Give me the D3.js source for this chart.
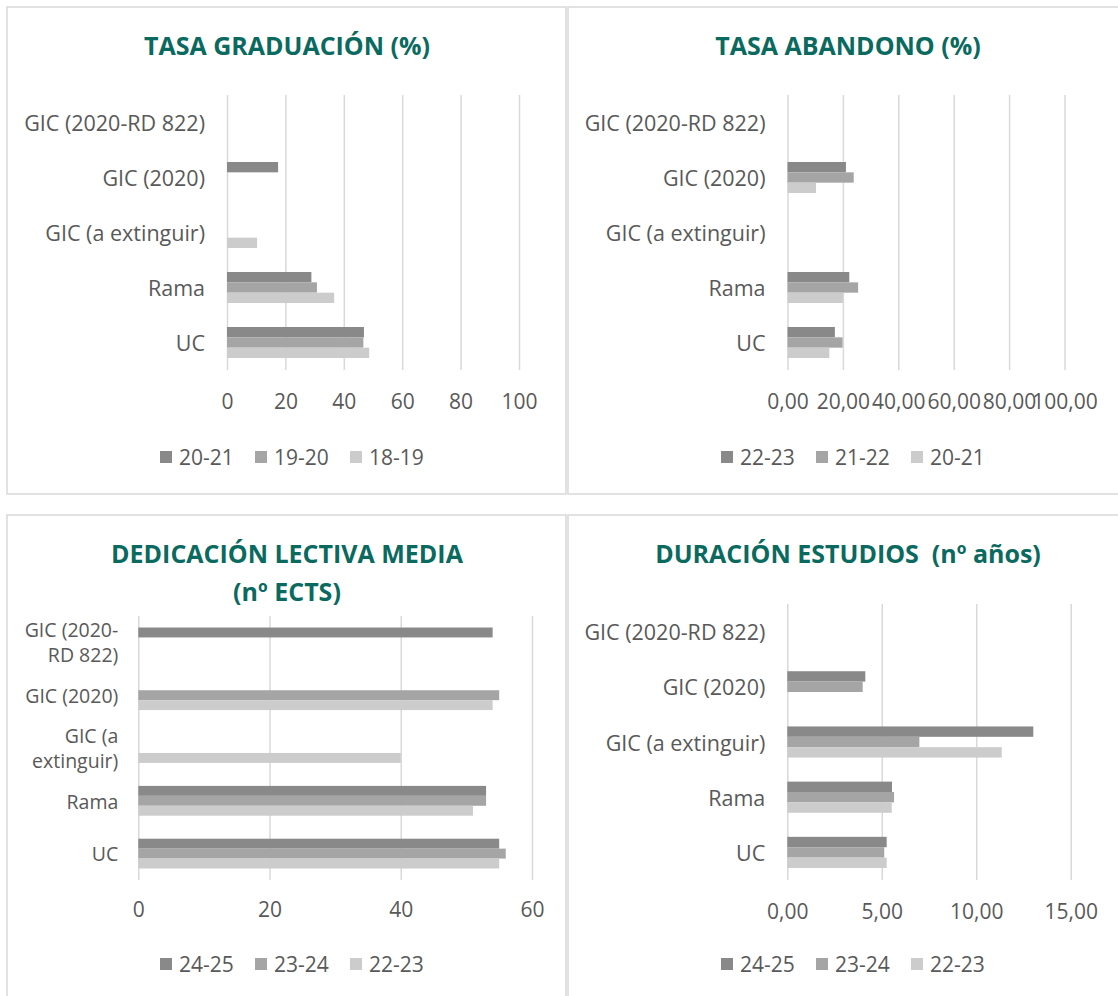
<!DOCTYPE html>
<html>
<head>
<meta charset="utf-8">
<script src="https://cdn.jsdelivr.net/npm/d3@7"></script>
<style>
  body { margin: 0; background: #fff; }
  text { font-family: "Open Sans", sans-serif; }
</style>
</head>
<body>
<script>
// categories, top to bottom
const categories = ["GIC (2020-RD 822)", "GIC (2020)", "GIC (a extinguir)", "Rama", "UC"];
const categoriesWrapped = ["GIC (2020-\nRD 822)", "GIC (2020)", "GIC (a\nextinguir)", "Rama", "UC"];

// Tasa graduacion (%)
const gradSeries = ["20-21", "19-20", "18-19"];
const grad2021 = [null, 17.5, null, 28.9, 46.9];
const grad1920 = [null, null, null, 30.8, 46.7];
const grad1819 = [null, null, 10.3, 36.7, 48.7];
const gradTicks = [0, 20, 40, 60, 80, 100];

// Tasa abandono (%)
const abanSeries = ["22-23", "21-22", "20-21"];
const aban2223 = [null, 21.1, null, 22.3, 17.1];
const aban2122 = [null, 23.9, null, 25.5, 19.9];
const aban2021 = [null, 10.3, null, 20.0, 15.1];
const abanTicks = [0, 20, 40, 60, 80, 100];

// Dedicacion lectiva media (nº ECTS)
const dedSeries = ["24-25", "23-24", "22-23"];
const ded2425 = [54, null, null, 53, 55];
const ded2324 = [null, 55, null, 53, 56];
const ded2223 = [null, 54, 40, 51, 55];
const dedTicks = [0, 20, 40, 60];

// Duracion estudios (nº años)
const durSeries = ["24-25", "23-24", "22-23"];
const dur2425 = [null, 4.13, 13.02, 5.54, 5.26];
const dur2324 = [null, 3.99, 6.99, 5.65, 5.13];
const dur2223 = [null, null, 11.35, 5.53, 5.26];
const durTicks = [0, 5, 10, 15];

const colors = ["#898989", "#a5a5a5", "#cccccc"];
const teal = "#0a6a60";
const textGrey = "#595959";
const gridGrey = "#d9d9d9";

const comma2 = v => d3.format(".2f")(v).replace(".", ",");

var svg = d3.select("body").append("svg")
    .attr("width", 1118)
    .attr("height", 996);

function drawPanel(cfg) {
    var g = svg.append("g");

    // frame
    g.append("rect")
        .attr("x", cfg.box[0]).attr("y", cfg.box[1])
        .attr("width", cfg.box[2]).attr("height", cfg.box[3])
        .attr("fill", "#fff")
        .attr("stroke", gridGrey)
        .attr("stroke-width", 1.5);

    // title
    cfg.title.forEach((line, i) => {
        g.append("text")
            .attr("x", cfg.titleX)
            .attr("y", cfg.titleY + i * 38)
            .attr("text-anchor", "middle")
            .attr("dominant-baseline", "central")
            .attr("font-size", 25)
            .attr("font-weight", "bold")
            .attr("fill", teal)
            .style("white-space", "pre")
            .text(line);
    });

    var x = d3.scaleLinear().domain([0, cfg.max]).range([cfg.x0, cfg.x1]);
    var y = d3.scaleBand()
        .domain(d3.range(cfg.labels.length))
        .range([cfg.y0, cfg.y1])
        .paddingInner(0.436)
        .paddingOuter(0.218);
    var ys = d3.scaleBand().domain(cfg.series).range([0, y.bandwidth()]);

    // gridlines + value labels
    var xAxis = g.append("g")
        .attr("transform", "translate(0," + cfg.y0 + ")")
        .call(d3.axisBottom(x)
            .tickValues(cfg.ticks)
            .tickSize(cfg.y1 - cfg.y0)
            .tickPadding(cfg.tickPad)
            .tickFormat(cfg.fmt));
    xAxis.select(".domain").remove();
    xAxis.selectAll(".tick line").attr("stroke", gridGrey).attr("stroke-width", 1.5);
    xAxis.selectAll(".tick text")
        .attr("fill", textGrey)
        .attr("font-size", 21)
        .attr("font-family", "Open Sans, sans-serif");

    // bars
    cfg.values.forEach((vals, s) => {
        g.append("g").selectAll("rect")
            .data(vals.map((v, i) => ({ v: v, i: i })).filter(d => d.v != null))
            .enter().append("rect")
            .attr("x", x(0))
            .attr("y", d => y(d.i) + ys(cfg.series[s]))
            .attr("width", d => x(d.v) - x(0))
            .attr("height", ys.bandwidth())
            .attr("fill", colors[s]);
    });

    // category labels
    var yAxis = g.append("g")
        .attr("transform", "translate(" + cfg.x0 + ",0)")
        .call(d3.axisLeft(y).tickSize(0).tickPadding(cfg.labelPad).tickFormat(i => cfg.labels[i]));
    yAxis.select(".domain").remove();
    yAxis.selectAll(".tick text")
        .attr("fill", textGrey)
        .attr("font-size", cfg.labelSize)
        .attr("font-family", "Open Sans, sans-serif")
        .attr("dy", "0.4em")
        .each(function(d) {
            var lines = cfg.labels[d].split("\n");
            if (lines.length > 1) {
                var t = d3.select(this).text(null).attr("dy", null);
                lines.forEach((l, k) => {
                    t.append("tspan")
                        .attr("x", -cfg.labelPad)
                        .attr("y", (k - (lines.length - 1) / 2) * 25)
                        .attr("dy", "0.36em")
                        .text(l);
                });
            }
        });

    // legend
    var step = 95;
    var startX = cfg.legendCx - 132;
    cfg.series.forEach((name, s) => {
        var lx = startX + s * step;
        g.append("rect")
            .attr("x", lx).attr("y", cfg.legendY - 6)
            .attr("width", 12).attr("height", 12)
            .attr("fill", colors[s]);
        g.append("text")
            .attr("x", lx + 19)
            .attr("y", cfg.legendY)
            .attr("dy", "0.36em")
            .attr("font-size", 21)
            .attr("fill", textGrey)
            .text(name);
    });
}

drawPanel({
    box: [7, 7, 559, 487],
    title: ["TASA GRADUACIÓN (%)"], titleX: 287, titleY: 45,
    x0: 227, x1: 519, y0: 95, y1: 370, max: 100,
    ticks: gradTicks, fmt: d3.format("d"), tickPad: 24,
    series: gradSeries, values: [grad2021, grad1920, grad1819],
    labels: categories, labelSize: 21.5, labelPad: 22,
    legendCx: 292, legendY: 457
});

drawPanel({
    box: [568, 7, 570, 487],
    title: ["TASA ABANDONO (%)"], titleX: 848, titleY: 45,
    x0: 787.5, x1: 1064.5, y0: 95, y1: 370, max: 100,
    ticks: abanTicks, fmt: comma2, tickPad: 24,
    series: abanSeries, values: [aban2223, aban2122, aban2021],
    labels: categories, labelSize: 21.5, labelPad: 22,
    legendCx: 853, legendY: 457
});

drawPanel({
    box: [7, 515, 559, 500],
    title: ["DEDICACIÓN LECTIVA MEDIA", "(nº ECTS)"], titleX: 287, titleY: 553,
    x0: 138.3, x1: 532, y0: 616, y1: 880, max: 60,
    ticks: dedTicks, fmt: d3.format("d"), tickPad: 22,
    series: dedSeries, values: [ded2425, ded2324, ded2223],
    labels: categoriesWrapped, labelSize: 19.5, labelPad: 20,
    legendCx: 292, legendY: 964
});

drawPanel({
    box: [568, 515, 570, 500],
    title: ["DURACIÓN ESTUDIOS  (nº años)"], titleX: 848, titleY: 553,
    x0: 787.3, x1: 1070.7, y0: 604, y1: 880, max: 15,
    ticks: durTicks, fmt: comma2, tickPad: 24,
    series: durSeries, values: [dur2425, dur2324, dur2223],
    labels: categories, labelSize: 21.5, labelPad: 22,
    legendCx: 853, legendY: 964
});
</script>
</body>
</html>
